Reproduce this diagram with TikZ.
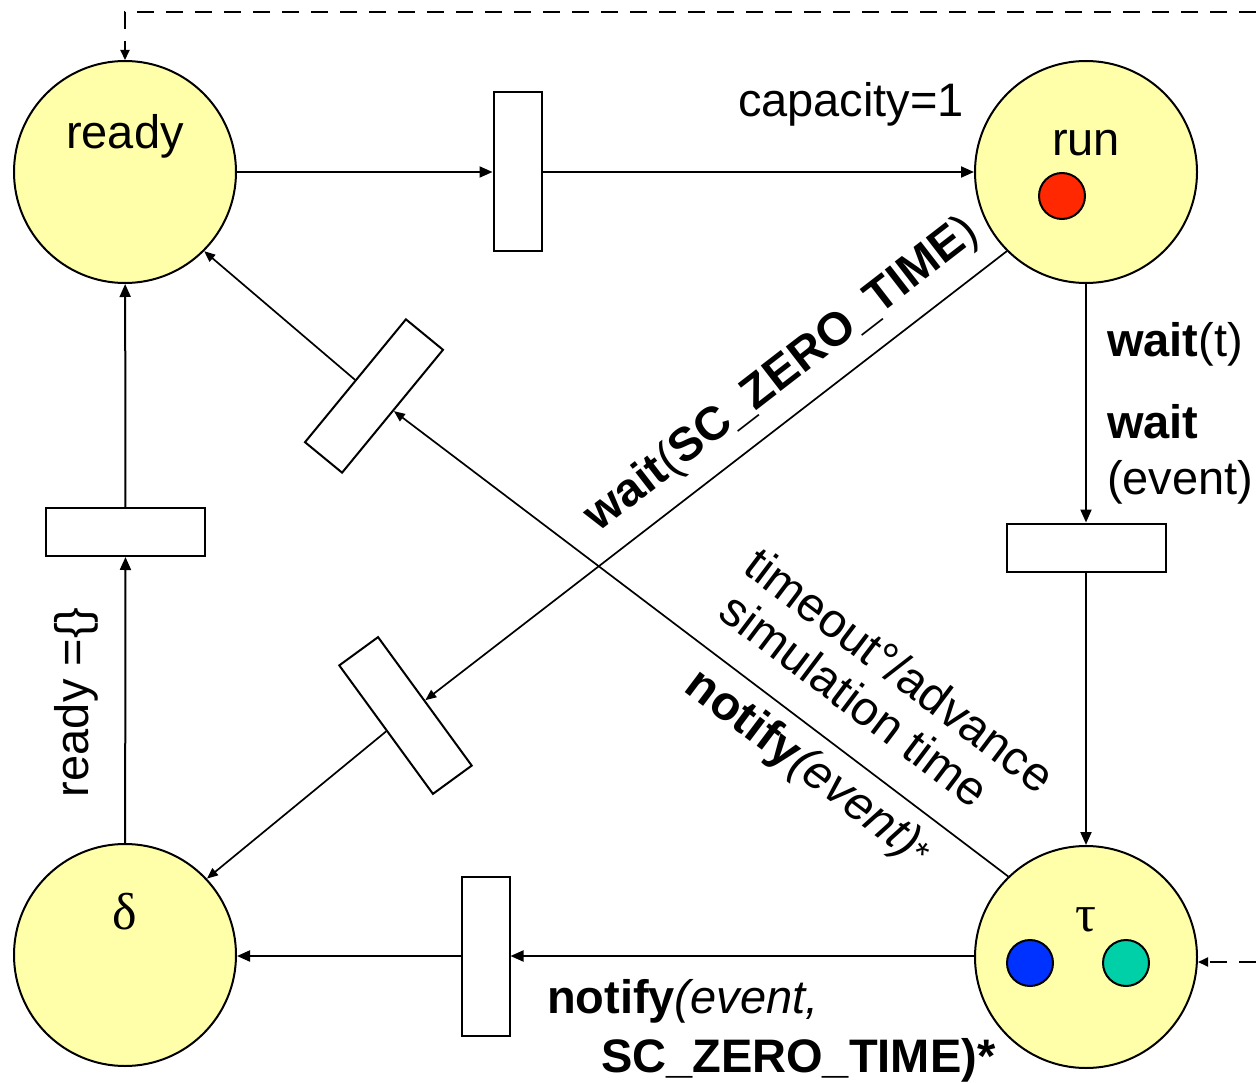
\documentclass[tikz,border=0pt]{standalone}
\usepackage{fontspec}
\setmainfont{Liberation Sans}
\newfontfamily\grfont{Liberation Serif}
\usetikzlibrary{arrows.meta}
\definecolor{placefill}{RGB}{255,255,170}
\definecolor{tokred}{RGB}{255,40,0}
\definecolor{tokblue}{RGB}{0,50,255}
\definecolor{tokteal}{RGB}{0,208,168}
\begin{document}
\begin{tikzpicture}[x=1pt,y=-1pt,line width=2pt,
  place/.style={circle,draw,fill=placefill,minimum size=222pt,inner sep=0pt},
  transv/.style={rectangle,draw,fill=white,minimum width=48pt,minimum height=159pt,inner sep=0pt},
  transh/.style={rectangle,draw,fill=white,minimum width=159pt,minimum height=48pt,inner sep=0pt},
  token/.style={circle,draw,minimum size=46pt,inner sep=0pt},
  arc/.style={-{Triangle[length=13pt,width=11pt]}},
  darc/.style={line width=1.7pt,-{Triangle[length=11pt,width=9pt]}},
  dasharc/.style={dash pattern=on 17pt off 12pt,-{Triangle[length=10pt,width=9pt]}},
  lbl/.style={font=\fontsize{47}{56}\selectfont,inner sep=0pt},
  dlbl/.style={font=\fontsize{48}{56}\selectfont,inner sep=0pt,anchor=base west,rotate=-37},
  grl/.style={font=\grfont\fontsize{52}{56}\selectfont,inner sep=0pt}
]
\useasboundingbox (0,0) rectangle (1256,1083);
% places
\node[place] (ready) at (125,172) {};
\node[place] (run) at (1086,172) {};
\node[place] (delta) at (125,955) {};
\node[place] (tau) at (1086,957) {};
% tokens
\node[token,fill=tokred] (tk1) at (1062,196) {};
\node[token,fill=tokblue] (tk2) at (1030,963) {};
\node[token,fill=tokteal] (tk3) at (1126,963) {};
% transitions
\node[transv] (t1) at (517.5,172) {};
\node[transh] (t2) at (125.5,532) {};
\node[transh] (t3) at (1086,547.5) {};
\node[transv] (t4) at (485.5,956) {};
\node[transv,rotate=-39.4] (t5) at (374,396) {};
\node[transv,rotate=36.1] (t6) at (405.5,715.5) {};
% arcs
\draw[arc] (ready) -- (t1);
\draw[arc] (t1) -- (run);
\draw[arc] (run) -- (t3);
\draw[arc] (t3) -- (tau);
\draw[arc] (tau.west |- t4) -- (t4);
\draw[arc] (t4) -- (delta.east |- t4);
\draw[arc] (delta) -- (t2);
\draw[arc] (t2) -- (ready);
\draw[darc] (run.225) -- (t6);
\draw[darc] (t6) -- (delta.43);
\draw[darc] (tau.134) -- (t5);
\draw[darc] (t5) -- (ready.-45);
% dashed arcs
\coordinate (dtop) at (1256,12);
\coordinate (dright) at (1256,962);
\draw[dasharc] (dtop) -| (ready);
\draw[dasharc] (dright) -- (tau.east |- dright);
% labels
\node[lbl,anchor=base] (lready) at (125,149) {ready};
\node[lbl,anchor=base] (lrun) at (1086,156) {run};
\node[lbl,anchor=base west] (lcap) at (737,117) {capacity=1};
\node[grl,anchor=base] (ldelta) at (125,929) {δ};
\node[grl,anchor=base] (ltau) at (1086,931) {τ};
\node[lbl,anchor=base west] (lw1) at (1106,356) {\textbf{wait}(t)};
\node[lbl,anchor=base west] (lw2) at (1106,438) {\textbf{wait}};
\node[lbl,anchor=base west] (lw3) at (1106,494) {(event)};
\node[lbl,anchor=base west,rotate=90] (lempty) at (88,798) {ready =\{\}};
\node[lbl,anchor=base west,rotate=37.7] (lzero) at (598,533) {\textbf{wait}(\textbf{SC\_ZERO\_TIME})};
\node[dlbl] (lto1) at (741,571) {timeout°/advance};
\node[dlbl] (lto2) at (716,616) {simulation time};
\node[dlbl] (lto3) at (682,690) {\textbf{notify}\textit{(event)}{\fontsize{36}{36}\selectfont *}};
\node[lbl,anchor=base west] (lnb1) at (546,1013) {\textbf{notify}\textit{(event,}};
\node[lbl,anchor=base west] (lnb2) at (600,1072) {\textbf{SC\_ZERO\_TIME)*}};
\end{tikzpicture}
\end{document}
